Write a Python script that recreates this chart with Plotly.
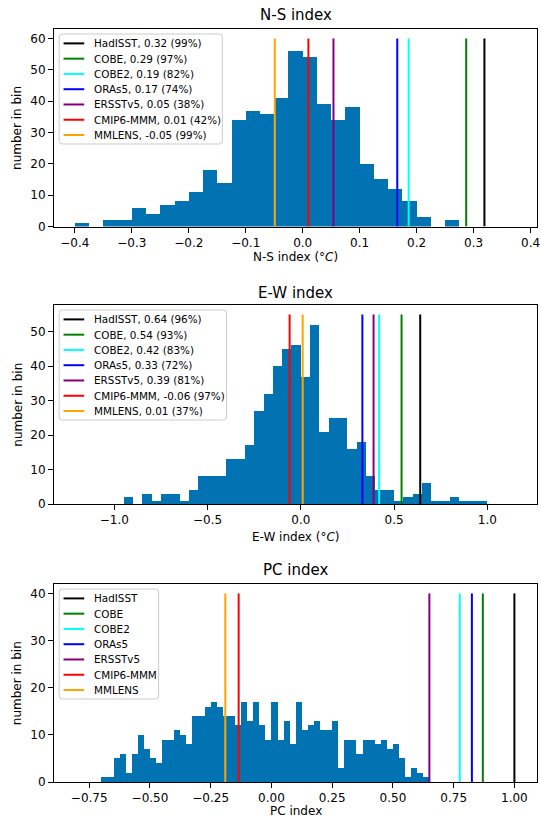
import plotly.graph_objects as go

# ---------------- data ----------------
products = ["HadISST", "COBE", "COBE2", "ORAs5", "ERSSTv5", "CMIP6-MMM", "MMLENS"]

ns_bin_start = -0.4
ns_bin_width = 0.025
ns_counts = [1, 0, 2, 2, 6, 4, 7, 8, 11, 18, 14, 34, 37, 36, 41, 56, 54, 39, 34, 38,
             20, 15, 12, 8, 3, 0, 2]
ns_values = [0.319, 0.287, 0.186, 0.166, 0.054, 0.010, -0.049]
ns_pct = [99, 97, 82, 74, 38, 42, 99]
ns_line_top = 60

ew_bin_start = -0.95
ew_bin_width = 0.05
ew_counts = [2, 0, 3, 1, 3, 3, 1, 4, 8, 8, 8, 13, 13, 17, 27, 32, 40, 45, 46, 37,
             52, 21, 25, 25, 16, 18, 8, 4, 4, 1, 2, 3, 6, 1, 1, 2, 1, 1, 1]
ew_values = [0.64, 0.54, 0.42, 0.33, 0.39, -0.06, 0.01]
ew_pct = [96, 93, 83, 72, 81, 97, 37]
ew_line_top = 55

pc_bin_start = -0.7
pc_bin_width = 0.025
pc_counts = [1, 1, 5, 6, 2, 6, 10, 7, 5, 4, 9, 9, 11, 10, 8, 14, 14, 16, 17, 16,
             14, 14, 12, 17, 13, 17, 12, 9, 17, 9, 13, 8, 17, 11, 12, 13, 11, 11, 13, 3,
             9, 9, 6, 9, 9, 8, 9, 7, 8, 5, 1, 3, 2, 1]
pc_values = [1.0, 0.87, 0.775, 0.825, 0.65, -0.135, -0.19]
pc_line_top = 40

# ---------------- styles / layout ----------------
line_colors = ["black", "green", "cyan", "blue", "purple", "red", "orange"]
bar_color = "#0173b2"
FONT = "DejaVu Sans"
W, H = 541, 821
L, R, T, B = 54, 540, 29, 782
PW, PH = R - L, B - T


def X(px):
    return (px - L) / PW


def Y(py):
    return (B - py) / PH


panels = [
    dict(counts=ns_counts, start=ns_bin_start, width=ns_bin_width, values=ns_values,
         pct=ns_pct, top=ns_line_top, title="N-S index", xtitle="N-S index (°<i>C</i>)",
         frame=(29, 226.5), xrange=[-0.4366, 0.4113], dtick=0.1, fmt=".1f",
         yrange=[0, 63], title_y=15, xtitle_y=257, leg_right=223.4),
    dict(counts=ew_counts, start=ew_bin_start, width=ew_bin_width, values=ew_values,
         pct=ew_pct, top=ew_line_top, title="E-W index", xtitle="E-W index (°<i>C</i>)",
         frame=(305, 504), xrange=[-1.323, 1.266], dtick=0.5, fmt=".1f",
         yrange=[0, 57.75], title_y=293, xtitle_y=537, leg_right=227.6),
    dict(counts=pc_counts, start=pc_bin_start, width=pc_bin_width, values=pc_values,
         pct=None, top=pc_line_top, title="PC index", xtitle="PC index",
         frame=(584, 782), xrange=[-0.895, 1.093], dtick=0.25, fmt=".2f",
         yrange=[0, 42], title_y=570, xtitle_y=811, leg_right=159.3),
]

fig = go.Figure()
annotations = []
shapes = []

for k, p in enumerate(panels):
    sfx = "" if k == 0 else str(k + 1)
    xa, ya = "x" + sfx, "y" + sfx
    centers = [p["start"] + (i + 0.5) * p["width"] for i in range(len(p["counts"]))]
    fig.add_trace(go.Bar(x=centers, y=p["counts"], width=p["width"],
                         marker=dict(color=bar_color, line=dict(width=0)),
                         xaxis=xa, yaxis=ya, showlegend=False, name=p["title"]))
    labels = []
    for j, name in enumerate(products):
        v = p["values"][j]
        lab = name if p["pct"] is None else f"{name}, {v:.2f} ({p['pct'][j]}%)"
        labels.append(lab)
        fig.add_trace(go.Scatter(x=[v, v], y=[0, p["top"]], mode="lines",
                                 line=dict(color=line_colors[j], width=2),
                                 xaxis=xa, yaxis=ya, showlegend=False, name=lab))
    ftop, fbot = p["frame"]
    dom = [Y(fbot), Y(ftop)]
    fig.update_layout(**{
        "xaxis" + sfx: dict(domain=[0, 1], anchor=ya, range=p["xrange"], dtick=p["dtick"],
                            tick0=0, tickformat=p["fmt"], ticks="outside", ticklen=5,
                            tickwidth=1, tickcolor="black", showline=True, mirror=True,
                            linecolor="black", linewidth=1, showgrid=False, zeroline=False,
                            ticklabeloverflow="allow",
                            tickfont=dict(family=FONT, size=12, color="black")),
        "yaxis" + sfx: dict(domain=dom, anchor=xa, range=p["yrange"], dtick=10,
                            ticks="outside", ticklen=5, tickwidth=1, tickcolor="black",
                            showline=True, mirror=True, linecolor="black", linewidth=1,
                            showgrid=False, zeroline=False,
                            tickfont=dict(family=FONT, size=12, color="black")),
    })
    # titles
    annotations.append(dict(text=p["title"], x=X((L + R) / 2), y=Y(p["title_y"]),
                            xref="paper", yref="paper", showarrow=False,
                            xanchor="center", yanchor="middle",
                            font=dict(family=FONT, size=15, color="black")))
    annotations.append(dict(text=p["xtitle"], x=X((L + R) / 2), y=Y(p["xtitle_y"]),
                            xref="paper", yref="paper", showarrow=False,
                            xanchor="center", yanchor="middle",
                            font=dict(family=FONT, size=12, color="black")))
    annotations.append(dict(text="number in bin", x=X(17), y=Y((ftop + fbot) / 2),
                            xref="paper", yref="paper", showarrow=False, textangle=-90,
                            xanchor="center", yanchor="middle",
                            font=dict(family=FONT, size=12, color="black")))
    # legend (matplotlib-like)
    bl, br = 59.2, p["leg_right"]
    bt = ftop + 5
    bb = bt + 110
    x0, x1, yt, yb = X(bl), X(br), Y(bt), Y(bb)
    rx, ry = 3 / PW, 3 / PH
    path = (f"M {x0+rx},{yt} L {x1-rx},{yt} Q {x1},{yt} {x1},{yt-ry} "
            f"L {x1},{yb+ry} Q {x1},{yb} {x1-rx},{yb} L {x0+rx},{yb} "
            f"Q {x0},{yb} {x0},{yb+ry} L {x0},{yt-ry} Q {x0},{yt} {x0+rx},{yt} Z")
    shapes.append(dict(type="path", path=path, xref="paper", yref="paper",
                       fillcolor="rgba(255,255,255,0.8)",
                       line=dict(color="#cccccc", width=1), layer="above"))
    for j, lab in enumerate(labels):
        ry_px = bt + 9.4 + 15.27 * j
        shapes.append(dict(type="line", xref="paper", yref="paper",
                           x0=X(63.6), x1=X(84.4), y0=Y(ry_px), y1=Y(ry_px),
                           line=dict(color=line_colors[j], width=2), layer="above"))
        annotations.append(dict(text=lab, x=X(92.3), y=Y(ry_px), xref="paper",
                                yref="paper", showarrow=False, xanchor="left",
                                yanchor="middle",
                                font=dict(family=FONT, size=10.4, color="black")))

fig.update_layout(width=W, height=H, margin=dict(l=L, r=W - R, t=T, b=H - B),
                  paper_bgcolor="white", plot_bgcolor="white", bargap=0,
                  annotations=annotations, shapes=shapes, showlegend=False,
                  font=dict(family=FONT, color="black"))

fig.write_html("out.html",
               config={"displayModeBar": False},
               post_script="document.body.style.margin='0px';"
                           "document.body.style.overflow='hidden';")
